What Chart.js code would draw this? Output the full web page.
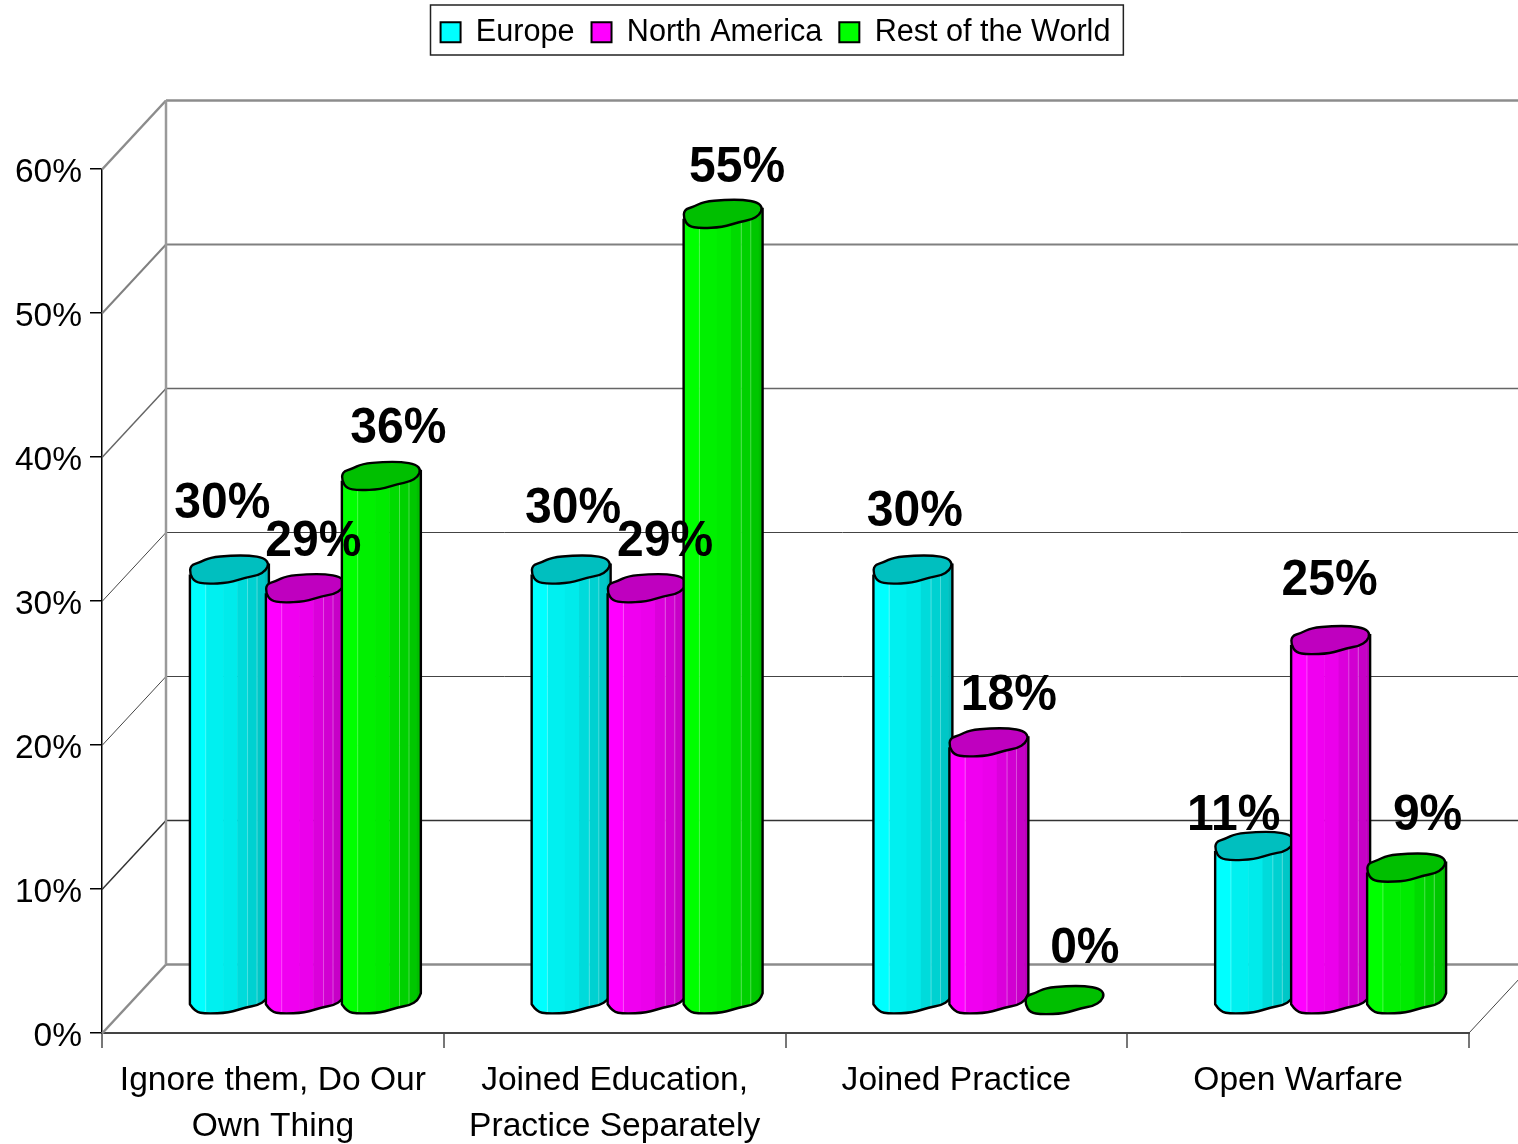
<!DOCTYPE html>
<html>
<head>
<meta charset="utf-8">
<title>Chart</title>
<script src="https://cdn.jsdelivr.net/npm/chart.js@4"></script>
<style>
  html, body { margin: 0; padding: 0; background: #fff; overflow: hidden; }
  canvas { display: block; }
</style>
</head>
<body>
<canvas id="chart" width="1518" height="1144"></canvas>
<script>
const categories = [
  ["Ignore them, Do Our", "Own Thing"],
  ["Joined Education,", "Practice Separately"],
  "Joined Practice",
  "Open Warfare",
];
const europe = [29.9, 29.9, 29.9, 10.7];
const northAmerica = [28.6, 28.6, 17.9, 25.0];
const restOfWorld = [36.4, 54.6, 0, 9.2];
const yTicks = [0, 10, 20, 30, 40, 50, 60];

// where the value labels sit, relative to the centre of the bar top
const labelShift = [
  [[-6.5, -65], [2.5, -60], [2.5, -57], [-20.5, -30]],
  [[8.5, -46], [18.5, -46], [20.5, -46], [-0.5, -59]],
  [[17.5, -47], [14.5, -46], [20.5, -51], [21.5, -52]],
];

// the back wall lines are not all drawn alike, one entry per y tick
const wallColors = ["#8c8c8c", "#333", "#444", "#444", "#666", "#808080", "#8c8c8c"];
const wallWidths = [2.5, 1.5, 1, 1, 1.5, 2, 2.5];

const FONT = "'Liberation Sans', Arial, sans-serif";
const DEPTH_X = 64, DEPTH_Y = 69;   // wall depth
const BAR_X = 32, BAR_Y = 33;       // bars stand halfway into the floor

// wobbly top of the cylinder, offsets from its centre for a 76px wide bar
const capOutline = [
  [-39, 5], [-38.5, -4], [-29, -7], [-19, -12], [2, -14], [21, -14], [35, -11.5],
  [40, -6], [37, 1], [29, 6], [17, 8], [0, 13.5], [-23, 14.5], [-34, 12.5],
];
const baseOutline = capOutline.slice(7).concat([capOutline[0]]);

// vertical facets on the body: [start fraction, brightness]
const facets = [[0, 1], [0.2, 0.94], [0.42, 0.92], [0.6, 0.86], [0.73, 0.82], [0.85, 0.78], [0.95, 0.74]];
const facetHighlights = [0.2, 0.73, 0.85];

function shade(hex, f) {
  const n = parseInt(hex.slice(1), 16);
  const r = Math.round(((n >> 16) & 255) * f);
  const g = Math.round(((n >> 8) & 255) * f);
  const b = Math.round((n & 255) * f);
  return `rgb(${r},${g},${b})`;
}

function traceCurve(ctx, pts, closed) {
  if (closed) {
    const last = pts[pts.length - 1];
    ctx.moveTo((last[0] + pts[0][0]) / 2, (last[1] + pts[0][1]) / 2);
    pts.forEach((p, i) => {
      const next = pts[(i + 1) % pts.length];
      ctx.quadraticCurveTo(p[0], p[1], (p[0] + next[0]) / 2, (p[1] + next[1]) / 2);
    });
    ctx.closePath();
    return;
  }
  ctx.lineTo(pts[0][0], pts[0][1]);
  for (let i = 1; i < pts.length - 1; i++) {
    ctx.quadraticCurveTo(pts[i][0], pts[i][1], (pts[i][0] + pts[i + 1][0]) / 2, (pts[i][1] + pts[i + 1][1]) / 2);
  }
  ctx.lineTo(pts[pts.length - 1][0], pts[pts.length - 1][1]);
}

function drawCylinder(ctx, bar, color) {
  const k = bar.width / 76;
  const cx = bar.x + BAR_X;
  const top = bar.y - BAR_Y;
  const base = bar.base - BAR_Y;
  const left = cx - 39 * k;
  const w = 79 * k;
  const scaled = (pts, y0) => pts.map((p) => [cx + p[0] * k, y0 + p[1]]);
  const bottomEdge = scaled(baseOutline.slice().reverse(), base);

  if (base - top > 1) {
    ctx.save();
    ctx.beginPath();
    ctx.moveTo(left, top + 5);
    traceCurve(ctx, bottomEdge, false);
    ctx.lineTo(cx + 40 * k, top - 6);
    ctx.closePath();
    ctx.clip();
    facets.forEach((f, i) => {
      const end = i + 1 < facets.length ? facets[i + 1][0] : 1;
      ctx.fillStyle = shade(color, f[1]);
      ctx.fillRect(left + f[0] * w, top - 20, (end - f[0]) * w + 0.5, base - top + 50);
    });
    ctx.strokeStyle = "rgba(255,255,255,0.3)";
    ctx.lineWidth = 1;
    facetHighlights.forEach((f) => {
      ctx.beginPath();
      ctx.moveTo(left + f * w, top);
      ctx.lineTo(left + f * w, base + 20);
      ctx.stroke();
    });
    ctx.restore();

    ctx.beginPath();
    ctx.moveTo(left, top + 5);
    traceCurve(ctx, bottomEdge, false);
    ctx.lineTo(cx + 40 * k, top - 6);
    ctx.strokeStyle = "#000";
    ctx.lineWidth = 2.4;
    ctx.lineJoin = "round";
    ctx.stroke();
  }

  ctx.beginPath();
  traceCurve(ctx, scaled(capOutline, top), true);
  ctx.fillStyle = shade(color, 0.75);
  ctx.fill();
  ctx.strokeStyle = "#000";
  ctx.lineWidth = 2.4;
  ctx.stroke();
}

function line(ctx, x1, y1, x2, y2, color, width) {
  ctx.beginPath();
  ctx.moveTo(x1, y1);
  ctx.lineTo(x2, y2);
  ctx.strokeStyle = color;
  ctx.lineWidth = width;
  ctx.stroke();
}

const wallsAndBars = {
  id: "wallsAndBars",
  beforeInit(chart) {
    // legend reserves everything above the plot
    const fit = chart.legend.fit;
    chart.legend.fit = function () {
      fit.call(chart.legend);
      this.height = 169;
    };
  },
  afterLayout(chart) {
    chart.legend.left += 41;
    chart.legend.right += 41;
  },
  beforeDraw(chart) {
    const ctx = chart.ctx;
    const lg = chart.legend;
    const padding = lg.options.labels.padding;
    const start = (lg.left + lg.right + padding - lg.lineWidths[0]) / 2;
    ctx.save();
    ctx.strokeStyle = "#222";
    ctx.lineWidth = 1.5;
    ctx.strokeRect(Math.round(start) - 10.5, 5, lg.lineWidths[0] - padding + 23, 50);
    ctx.restore();
  },
  beforeDatasetsDraw(chart) {
    const ctx = chart.ctx;
    const { left, right, bottom } = chart.chartArea;
    const y = chart.scales.y;
    ctx.save();
    yTicks.forEach((t, i) => {
      const py = y.getPixelForValue(t) + 0.5;
      line(ctx, left, py, left + DEPTH_X, py - DEPTH_Y, wallColors[i], wallWidths[i]);
      line(ctx, left + DEPTH_X, py - DEPTH_Y, right + DEPTH_X, py - DEPTH_Y, wallColors[i], wallWidths[i]);
    });
    line(ctx, left + DEPTH_X, y.getPixelForValue(60) - DEPTH_Y, left + DEPTH_X, bottom - DEPTH_Y, "#9a9a9a", 2.5);
    line(ctx, right, bottom, right + DEPTH_X, bottom - DEPTH_Y, "#444", 1);
    ctx.restore();
  },
  beforeDatasetDraw() {
    return false;  // plain rectangles are replaced by the cylinders below
  },
  afterDatasetsDraw(chart) {
    const ctx = chart.ctx;
    ctx.save();
    categories.forEach((c, i) => {
      chart.data.datasets.forEach((ds, d) => {
        drawCylinder(ctx, chart.getDatasetMeta(d).data[i], ds.backgroundColor);
      });
    });
    ctx.font = "bold 48px " + FONT;
    ctx.fillStyle = "#000";
    ctx.textAlign = "center";
    ctx.textBaseline = "middle";
    categories.forEach((c, i) => {
      chart.data.datasets.forEach((ds, d) => {
        const bar = chart.getDatasetMeta(d).data[i];
        const s = labelShift[d][i];
        ctx.save();
        // the original lettering is a bit taller than the font
        ctx.translate(bar.x + BAR_X + s[0], bar.y - BAR_Y + s[1]);
        ctx.scale(1, 1.06);
        ctx.fillText(Math.round(ds.data[i]) + "%", 0, 0);
        ctx.restore();
      });
    });
    ctx.restore();
  },
};

new Chart(document.getElementById("chart").getContext("2d"), {
  type: "bar",
  data: {
    labels: categories,
    datasets: [
      { label: "Europe", data: europe, backgroundColor: "#00FFFF", borderColor: "#000", borderWidth: 2 },
      { label: "North America", data: northAmerica, backgroundColor: "#FF00FF", borderColor: "#000", borderWidth: 2 },
      { label: "Rest of the World", data: restOfWorld, backgroundColor: "#00FF00", borderColor: "#000", borderWidth: 2 },
    ],
  },
  options: {
    responsive: false,
    animation: false,
    layout: { padding: { left: 0, right: 49, top: 0, bottom: 0 } },
    datasets: { bar: { barPercentage: 1, categoryPercentage: 0.667 } },
    plugins: {
      tooltip: { enabled: false },
      legend: {
        position: "top",
        labels: {
          boxWidth: 20,
          boxHeight: 20,
          padding: 17,
          color: "#000",
          font: { family: FONT, size: 30.6 },
        },
      },
    },
    scales: {
      x: {
        grid: { drawOnChartArea: false, color: "#777", lineWidth: 2, tickLength: 15 },
        border: { color: "#444", width: 2 },
        afterFit: (axis) => { axis.height = 111; },
        ticks: {
          autoSkip: false,
          maxRotation: 0,
          padding: 10,
          color: "#000",
          font: { family: FONT, size: 33.6, lineHeight: 1.37 },
        },
      },
      y: {
        min: 0,
        max: 60,
        grid: { drawOnChartArea: false, color: "#000", lineWidth: 1.5, tickLength: 12 },
        border: { color: "#000", width: 1.5 },
        afterFit: (axis) => { axis.width = 102; },
        ticks: {
          stepSize: 10,
          padding: 8,
          labelOffset: 4,
          color: "#000",
          font: { family: FONT, size: 33.5 },
          callback: (v) => v + "%",
        },
      },
    },
  },
  plugins: [wallsAndBars],
});
</script>
</body>
</html>
